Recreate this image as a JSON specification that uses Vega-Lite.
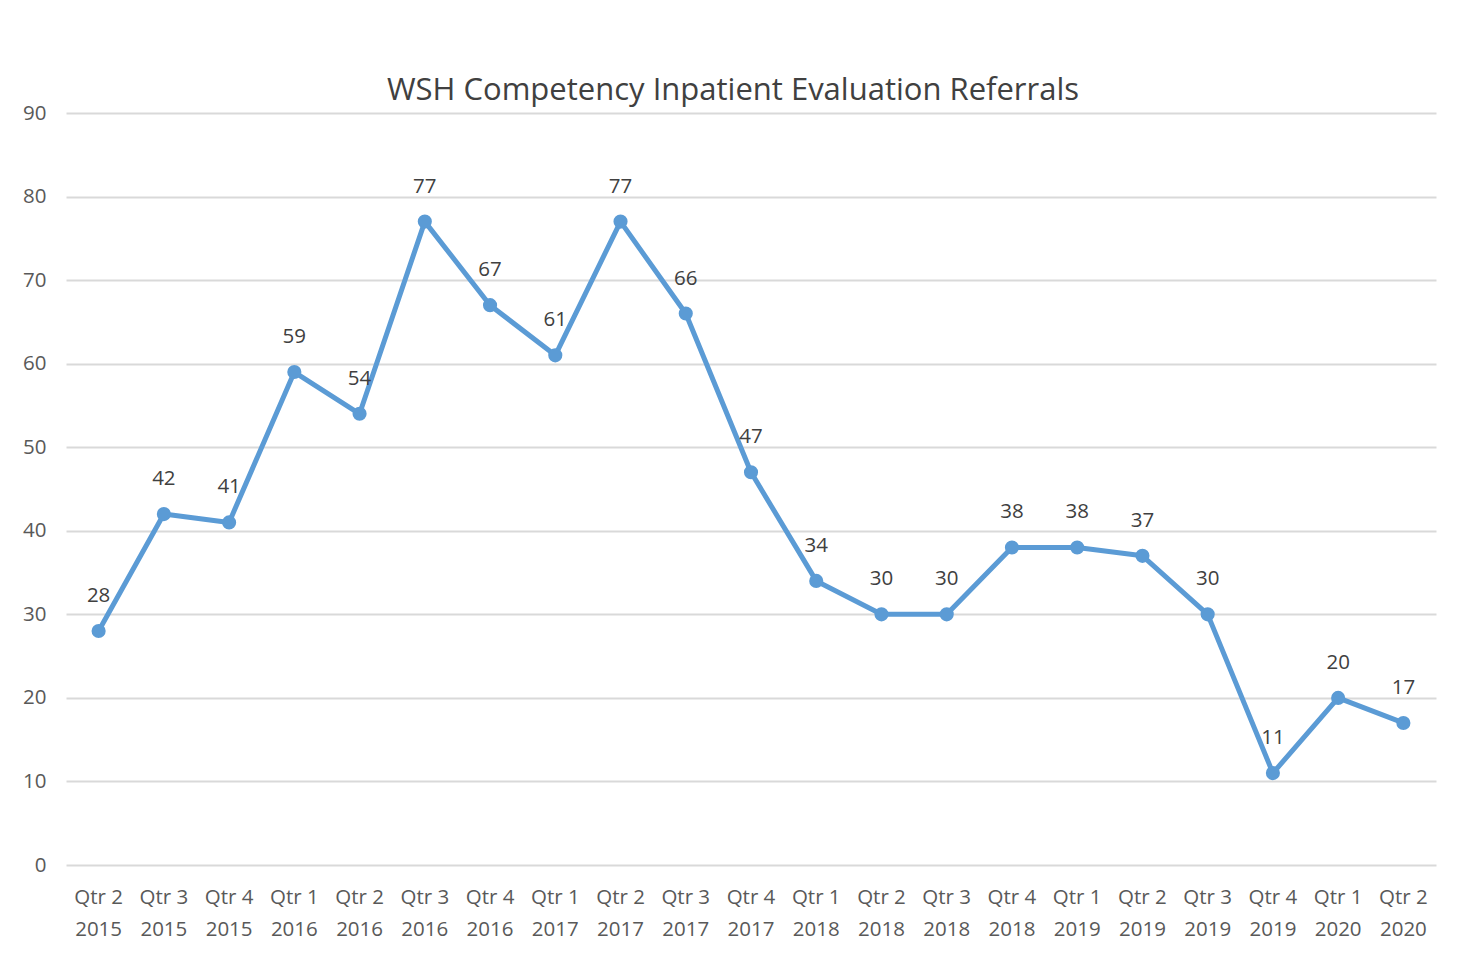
{
  "$schema": "https://vega.github.io/schema/vega-lite/v6.json",
  "autosize": {"type": "none"},
  "width": 1370,
  "height": 752,
  "padding": {"left": 66, "top": 113, "right": 30, "bottom": 97},
  "background": "white",
  "config": {
    "view": {"stroke": null},
    "font": "Open Sans"
  },
  "title": {
    "text": "WSH Competency Inpatient Evaluation Referrals",
    "fontSize": 31,
    "fontWeight": "normal",
    "color": "#404040",
    "font": "Open Sans",
    "anchor": "middle",
    "frame": "group",
    "dx": -18,
    "dy": 8,
    "offset": 4
  },
  "data": {
    "values": [
      {"quarter": "Qtr 2 2015", "referrals": 28},
      {"quarter": "Qtr 3 2015", "referrals": 42},
      {"quarter": "Qtr 4 2015", "referrals": 41},
      {"quarter": "Qtr 1 2016", "referrals": 59},
      {"quarter": "Qtr 2 2016", "referrals": 54},
      {"quarter": "Qtr 3 2016", "referrals": 77},
      {"quarter": "Qtr 4 2016", "referrals": 67},
      {"quarter": "Qtr 1 2017", "referrals": 61},
      {"quarter": "Qtr 2 2017", "referrals": 77},
      {"quarter": "Qtr 3 2017", "referrals": 66},
      {"quarter": "Qtr 4 2017", "referrals": 47},
      {"quarter": "Qtr 1 2018", "referrals": 34},
      {"quarter": "Qtr 2 2018", "referrals": 30},
      {"quarter": "Qtr 3 2018", "referrals": 30},
      {"quarter": "Qtr 4 2018", "referrals": 38},
      {"quarter": "Qtr 1 2019", "referrals": 38},
      {"quarter": "Qtr 2 2019", "referrals": 37},
      {"quarter": "Qtr 3 2019", "referrals": 30},
      {"quarter": "Qtr 4 2019", "referrals": 11},
      {"quarter": "Qtr 1 2020", "referrals": 20},
      {"quarter": "Qtr 2 2020", "referrals": 17}
    ]
  },
  "encoding": {
    "x": {
      "field": "quarter",
      "type": "nominal",
      "sort": null,
      "scale": {"type": "band", "paddingInner": 0, "paddingOuter": 0},
      "axis": {
        "title": null,
        "labelAngle": 0,
        "domain": false,
        "ticks": false,
        "labelPadding": 22,
        "labelFontSize": 20.5,
        "labelColor": "#595959",
        "labelLineHeight": 32,
        "labelBaseline": "top",
        "labelExpr": "[slice(datum.value, 0, 5), slice(datum.value, 6)]"
      }
    },
    "y": {
      "field": "referrals",
      "type": "quantitative",
      "scale": {"domain": [0, 90], "nice": false},
      "axis": {
        "title": null,
        "values": [0, 10, 20, 30, 40, 50, 60, 70, 80, 90],
        "domain": false,
        "ticks": false,
        "labelPadding": 20,
        "labelFontSize": 20.5,
        "labelColor": "#595959",
        "gridColor": "#d9d9d9",
        "gridWidth": 2
      }
    }
  },
  "layer": [
    {
      "mark": {"type": "line", "color": "#5B9BD5", "strokeWidth": 5, "strokeJoin": "round", "strokeCap": "round"}
    },
    {
      "mark": {"type": "point", "filled": true, "color": "#5B9BD5", "size": 200, "opacity": 1}
    },
    {
      "mark": {"type": "text", "dy": -35, "fontSize": 20.5, "color": "#404040", "baseline": "middle"},
      "encoding": {"text": {"field": "referrals", "type": "quantitative"}}
    }
  ]
}
